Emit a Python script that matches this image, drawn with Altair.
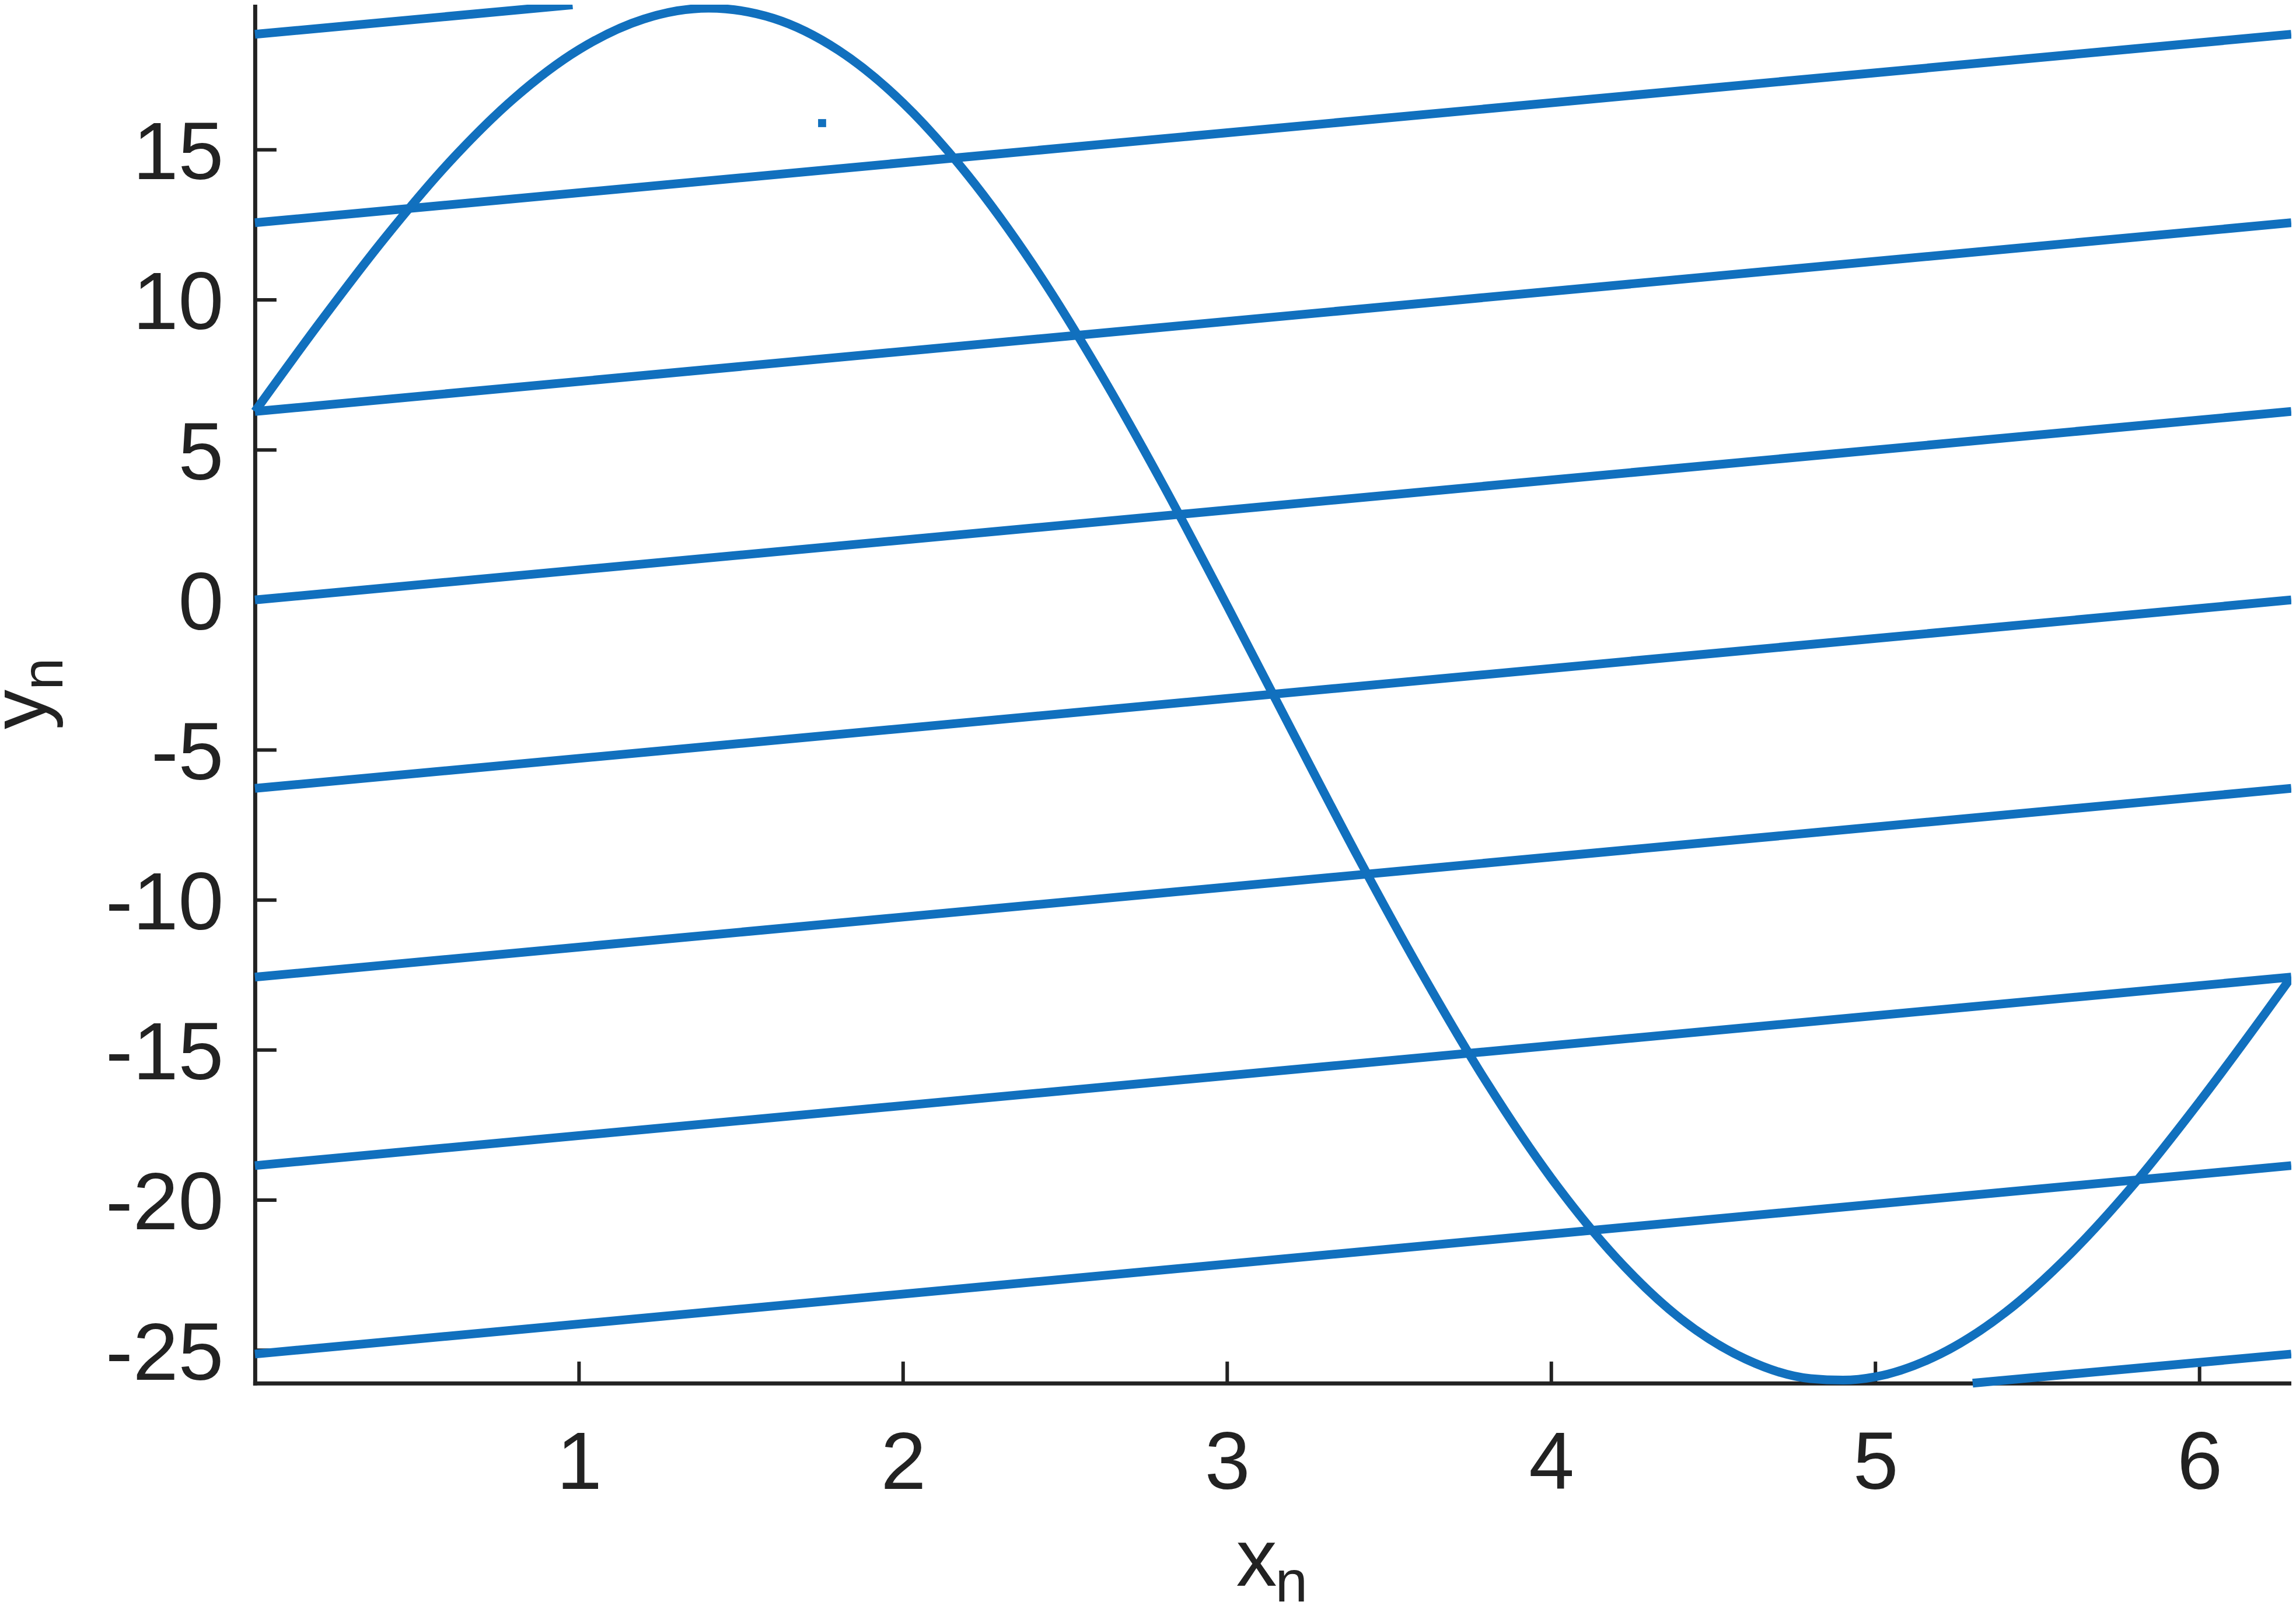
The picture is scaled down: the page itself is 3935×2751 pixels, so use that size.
import altair as alt
import pandas as pd

# ---- data ----
curve_x = [0.0, 0.2, 0.4, 0.6, 0.8, 1.0, 1.2, 1.4, 1.6, 1.8, 2.0, 2.2, 2.4, 2.6, 2.8,
           3.0, 3.2, 3.4, 3.6, 3.8, 4.0, 4.2, 4.4, 4.6, 4.8, 4.9, 5.0, 5.2, 5.4, 5.6,
           5.8, 6.0, 6.2, 6.283]
curve_y = [6.28, 9.24, 12.05, 14.59, 16.72, 18.34, 19.36, 19.72, 19.38, 18.32, 16.56,
           14.15, 11.18, 7.71, 3.88, -0.20, -4.37, -8.50, -12.43, -16.07, -19.27,
           -21.92, -23.96, -25.30, -25.95, -26.00, -25.89, -25.13, -23.75, -21.81,
           -19.44, -16.72, -13.81, -12.57]

seg_x0 = [0.0, 0.0, 0.0, 0.0, 0.0, 0.0, 0.0, 0.0, 5.30]
seg_y0 = [-25.13, -18.85, -12.57, -6.28, 0.0, 6.28, 12.57, 18.85, -26.10]
seg_x1 = [6.283, 6.283, 6.283, 6.283, 6.283, 6.283, 6.283, 0.98, 6.283]
seg_y1 = [-18.85, -12.57, -6.28, 0.0, 6.28, 12.57, 18.85, 19.83, -25.13]

dot_x = [1.75]
dot_y = [15.89]

x_ticks = [1, 2, 3, 4, 5, 6]
y_ticks = [-25, -20, -15, -10, -5, 0, 5, 10, 15]
x_domain = [0, 6.2832]
y_domain = [-26.1, 19.83]

# ---- tables ----
seg_rows = []
for i in range(len(seg_x0)):
    seg_rows.append({"seg": i, "x": seg_x0[i], "y": seg_y0[i]})
    seg_rows.append({"seg": i, "x": seg_x1[i], "y": seg_y1[i]})
seg_df = pd.DataFrame(seg_rows)
curve_df = pd.DataFrame({"x": curve_x, "y": curve_y})
dot_df = pd.DataFrame({"x": dot_x, "y": dot_y})
xt_df = pd.DataFrame({"v": x_ticks})
yt_df = pd.DataFrame({"v": y_ticks})
one = pd.DataFrame({"a": [0]})

W, H = 3491, 2363
BLUE = "#1170BE"
INK = "#222222"
FONT = "Liberation Sans"
LW = 15

xscale = alt.Scale(domain=x_domain, nice=False, zero=False)
yscale = alt.Scale(domain=y_domain, nice=False, zero=False)

xaxis = alt.Axis(values=x_ticks, title=None, grid=False, ticks=False, tickSize=0,
                 domainColor=INK, domainWidth=7, domainCap="square",
                 labelFont=FONT, labelFontSize=140, labelColor=INK, labelPadding=70,
                 labelExpr="'' + datum.value", labelFlush=False, labelOverlap=False,
                 labelAngle=0, labelLimit=0)
yaxis = alt.Axis(values=y_ticks, title=None, grid=False, ticks=False, tickSize=0,
                 domainColor=INK, domainWidth=7, domainCap="square",
                 labelFont=FONT, labelFontSize=140, labelColor=INK, labelPadding=54,
                 labelBaseline="alphabetic", labelOffset=50, labelLimit=0,
                 labelExpr="'' + datum.value", labelFlush=False, labelOverlap=False)

X = alt.X("x:Q", scale=xscale, axis=xaxis)
Y = alt.Y("y:Q", scale=yscale, axis=yaxis)

xticks = alt.Chart(xt_df).mark_rule(color=INK, strokeWidth=6).encode(
    x=alt.X("v:Q", scale=xscale, axis=xaxis), y=alt.value(H), y2=alt.value(H - 37))
yticks = alt.Chart(yt_df).mark_rule(color=INK, strokeWidth=6).encode(
    y=alt.Y("v:Q", scale=yscale, axis=yaxis), x=alt.value(0), x2=alt.value(37))

segs = alt.Chart(seg_df).mark_line(color=BLUE, strokeWidth=LW, strokeCap="butt").encode(
    x=X, y=Y, detail="seg:N")
curve = alt.Chart(curve_df).mark_line(color=BLUE, strokeWidth=LW, interpolate="monotone",
                                      strokeJoin="round").encode(x=X, y=Y)
dot = alt.Chart(dot_df).mark_square(color=BLUE, size=190, opacity=1).encode(x=X, y=Y)

def label(txt, px, py, size, angle=0):
    return alt.Chart(one).mark_text(font=FONT, fontSize=size, color=INK, align="left",
                                    baseline="alphabetic", angle=angle).encode(
        x=alt.value(px), y=alt.value(py), text=alt.value(txt))

titles = [
    label("x", 1682, 2710, 140),
    label("n", 1749, 2737, 100),
    label("y", -358, 1243, 140, 270),
    label("n", -330, 1175, 100, 270),
]

chart = alt.layer(xticks, yticks, segs, curve, dot, *titles).properties(
    width=W, height=H,
    autosize=alt.AutoSizeParams(type="none"),
    padding={"left": 429, "top": 0, "right": 0, "bottom": 380},
    background="white",
).configure_view(stroke=None)

chart.save("out.html", embed_options={"renderer": "svg", "actions": False})
